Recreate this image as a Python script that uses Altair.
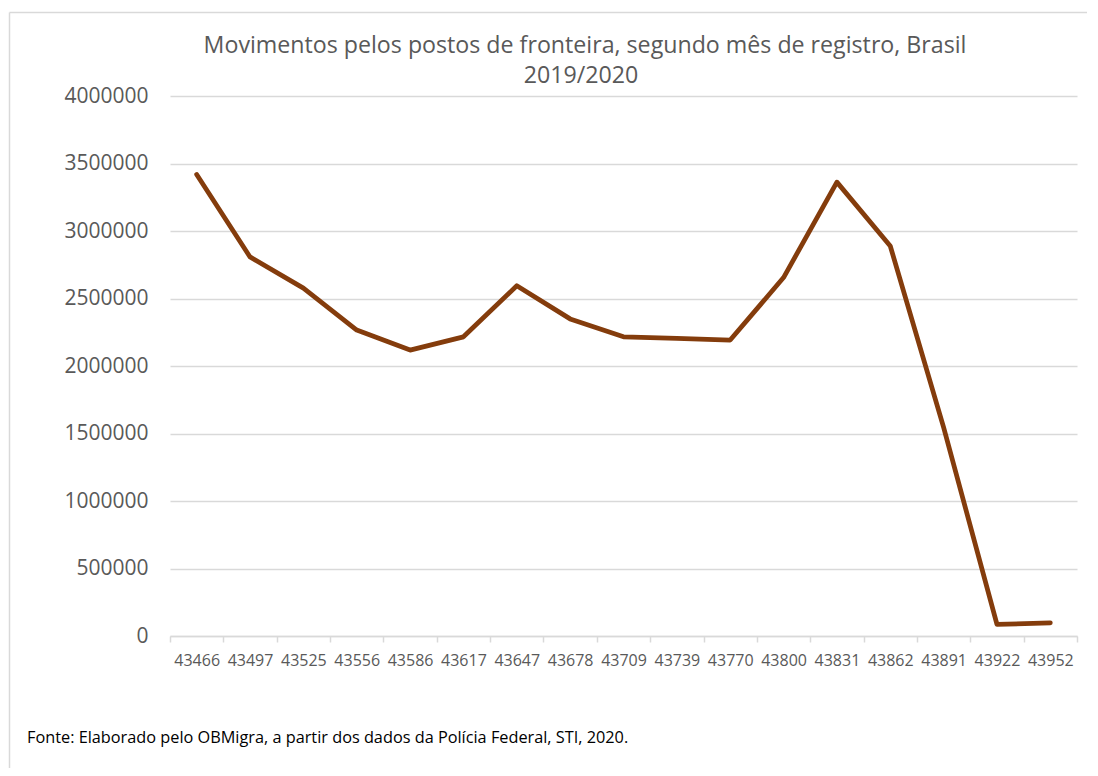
import altair as alt
import pandas as pd

months = ["43466", "43497", "43525", "43556", "43586", "43617", "43647", "43678", "43709",
          "43739", "43770", "43800", "43831", "43862", "43891", "43922", "43952"]
movimentos = [3419000, 2808000, 2577000, 2266000, 2118000, 2216000, 2594000, 2349000, 2216000,
              2205000, 2192000, 2655000, 3362000, 2889000, 1545000, 86000, 98000]
y_ticks = [0, 500000, 1000000, 1500000, 2000000, 2500000, 3000000, 3500000, 4000000]
title_lines = ["Movimentos pelos postos de fronteira, segundo mês de registro, Brasil", "2019/2020"]
source_note = "Fonte: Elaborado pelo OBMigra, a partir dos dados da Polícia Federal, STI, 2020."

df = pd.DataFrame({"mes": months, "valor": movimentos})

FONT = "Open Sans"
W, H = 907, 540

line = alt.Chart(df).mark_line(color="#843C0C", strokeWidth=4.75, strokeCap="round", strokeJoin="round").encode(
    x=alt.X("mes:N", sort=months, bandPosition=0.5,
            scale=alt.Scale(type="band", paddingInner=0, paddingOuter=0),
            axis=alt.Axis(title=None, labelAngle=0, tickBand="extent", domainColor="#d9d9d9",
                          domainWidth=1.5, tickColor="#d9d9d9", tickWidth=1.5, tickSize=6,
                          labelPadding=10, labelFontSize=16, labelColor="#595959", labelFont=FONT,
                          grid=False)),
    y=alt.Y("valor:Q", scale=alt.Scale(domain=[0, 4000000], nice=False),
            axis=alt.Axis(title=None, values=y_ticks, format="d", domain=False, ticks=False,
                          gridColor="#d9d9d9", gridWidth=1.5, labelPadding=22,
                          labelFontSize=21, labelColor="#595959", labelFont=FONT)),
)

title1 = alt.Chart(pd.DataFrame({"t": [title_lines[0]]})).mark_text(
    align="center", baseline="middle", fontSize=23.2, font=FONT, color="#595959"
).encode(x=alt.value(415), y=alt.value(-50), text="t:N")
title2 = alt.Chart(pd.DataFrame({"t": [title_lines[1]]})).mark_text(
    align="center", baseline="middle", fontSize=23.2, font=FONT, color="#595959"
).encode(x=alt.value(411), y=alt.value(-20), text="t:N")

note = alt.Chart(pd.DataFrame({"t": [source_note]})).mark_text(
    align="left", baseline="middle", fontSize=16.3, font=FONT, color="#000000"
).encode(x=alt.value(-143), y=alt.value(642), text="t:N")

border = alt.Chart(pd.DataFrame({"a": [0]})).mark_rule(color="#d9d9d9", strokeWidth=1.5).encode(
    x=alt.value(-160.5), x2=alt.value(917), y=alt.value(-83.5))
border_left = alt.Chart(pd.DataFrame({"a": [0]})).mark_rule(color="#d9d9d9", strokeWidth=1.5).encode(
    x=alt.value(-160.5), y=alt.value(-83.5), y2=alt.value(672))

chart = alt.layer(border, border_left, line, title1, title2, note).properties(
    width=W, height=H,
    autosize=alt.AutoSizeParams(type="none"),
    padding={"left": 162, "top": 88, "right": 10, "bottom": 132},
).configure_view(stroke=None)

chart.save("out.html", embed_options={"renderer": "svg", "actions": False})
